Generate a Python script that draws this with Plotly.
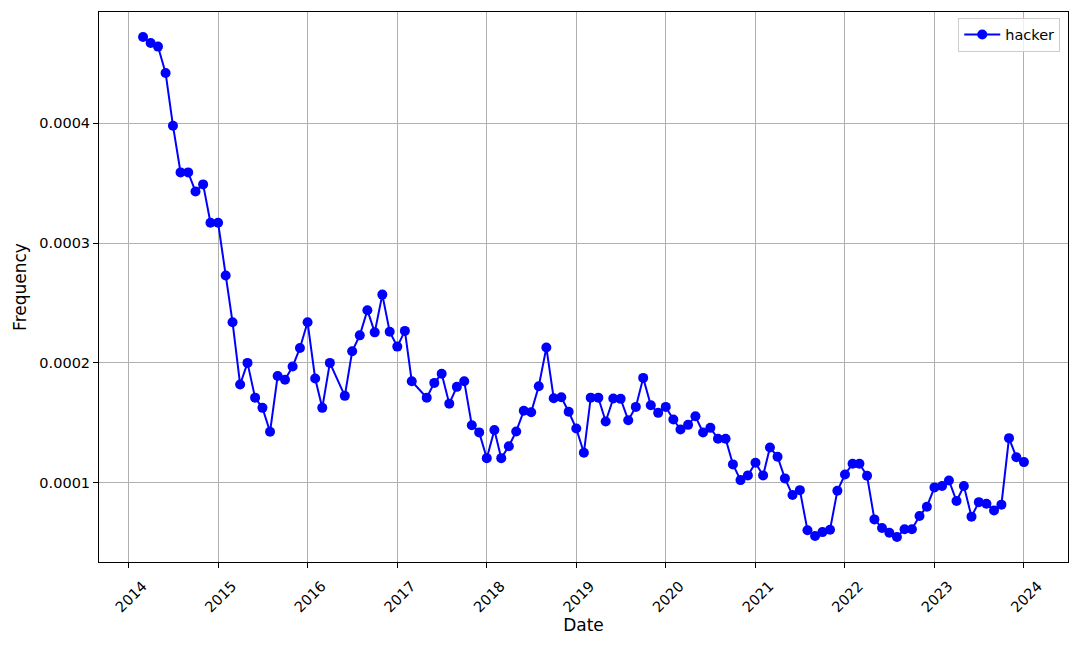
import pandas as pd
import plotly.graph_objects as go

LINE_COLOR = "#0000FF"
GRID_COLOR = "#B0B0B0"
FONT = "DejaVu Sans, Liberation Sans, sans-serif"

# monthly points, 2016-05 and 2017-04 are absent in the source series
MISSING_MONTHS = ["2016-05-01", "2017-04-01"]
MONTHS = [
    d for d in pd.date_range("2014-03-01", "2024-01-01", freq="MS")
    if d.strftime("%Y-%m-%d") not in MISSING_MONTHS
]

# frequency values in units of 1e-6
FREQ_2014 = [472, 467, 464, 442, 398, 359, 359, 343, 349, 317]
FREQ_2015 = [317, 273, 234, 182, 200, 171, 162.5, 142.5, 189, 186, 197, 212.5]
FREQ_2016 = [234, 187, 162.5, 200, 172.5, 209.7, 223, 244, 225.5, 257, 226]
FREQ_2017 = [213.6, 226.7, 184.7, 171, 183.3, 191, 166, 180, 184.7, 148, 142]
FREQ_2018 = [120.5, 144, 120.5, 130.5, 142.8, 160, 158.8, 180.5, 212.8, 170.5, 171.3, 159.2]
FREQ_2019 = [145.2, 125, 171, 171, 151.1, 170.3, 170, 152.2, 163.3, 187.5, 164.7, 158.3]
FREQ_2020 = [163.3, 152.8, 144.4, 148.3, 155.5, 141.9, 145.8, 136.7, 136.7, 115.3, 102.2, 106.1]
FREQ_2021 = [116.7, 106.1, 129.4, 121.7, 103.6, 89.7, 93.8, 60.3, 55.5, 58.8, 60.8, 93.3]
FREQ_2022 = [106.9, 115.8, 115.8, 105.8, 69.4, 62.2, 58.3, 54.7, 61.1, 61.1, 72.2, 80]
FREQ_2023 = [96.1, 97.2, 101.9, 84.7, 97.2, 71.7, 83.8, 82.5, 76.9, 81.7, 137.2, 121.3]
FREQ_2024 = [117.2]

freq = [
    v * 1e-6
    for year in (FREQ_2014, FREQ_2015, FREQ_2016, FREQ_2017, FREQ_2018, FREQ_2019,
                 FREQ_2020, FREQ_2021, FREQ_2022, FREQ_2023, FREQ_2024)
    for v in year
]

Y_TICKS = [0.0001, 0.0002, 0.0003, 0.0004]
X_TICKS = [f"{y}-01-01" for y in range(2014, 2025)]
X_TICK_LABELS = [str(y) for y in range(2014, 2025)]

# matplotlib-like 5% padding around the data
span = MONTHS[-1] - MONTHS[0]
x_range = [MONTHS[0] - span * 0.05, MONTHS[-1] + span * 0.05]
y_span = max(freq) - min(freq)
y_range = [min(freq) - 0.05 * y_span, max(freq) + 0.05 * y_span]

fig = go.Figure()
fig.add_trace(
    go.Scatter(
        x=MONTHS,
        y=freq,
        mode="lines+markers",
        name="hacker",
        line={"color": LINE_COLOR, "width": 2},
        marker={"color": LINE_COLOR, "size": 10},
    )
)

axis_common = {
    "showline": True,
    "mirror": True,
    "linecolor": "black",
    "linewidth": 1,
    "showgrid": True,
    "gridcolor": GRID_COLOR,
    "gridwidth": 1,
    "zeroline": False,
    "ticks": "outside",
    "ticklen": 5,
    "tickcolor": "black",
    "tickfont": {"size": 14.5, "color": "black"},
    "automargin": False,
}

fig.update_layout(
    width=1080,
    height=648,
    paper_bgcolor="white",
    plot_bgcolor="white",
    font={"family": FONT, "size": 14.5, "color": "black"},
    margin={"l": 99, "r": 12, "t": 12, "b": 86},
    showlegend=True,
    legend={
        "x": 0.992,
        "y": 0.99,
        "xanchor": "right",
        "yanchor": "top",
        "bgcolor": "rgba(255,255,255,0.8)",
        "bordercolor": "#CCCCCC",
        "borderwidth": 1,
        "itemwidth": 36,
        "font": {"size": 14.5},
    },
    xaxis={
        **axis_common,
        "range": x_range,
        "tickmode": "array",
        "tickvals": X_TICKS,
        "ticktext": X_TICK_LABELS,
        "tickangle": -45,
        "ticklabelshift": 14,
        "ticklabelstandoff": 4,
        "title": {"text": "Date", "standoff": 0},
    },
    yaxis={
        **axis_common,
        "range": y_range,
        "tickmode": "array",
        "tickvals": Y_TICKS,
        "ticktext": [f"{v:.4f}" for v in Y_TICKS],
        "title": {"text": "Frequency", "standoff": 8},
    },
)

fig.write_html(
    "out.html",
    config={"displayModeBar": False},
    post_script="document.body.style.margin = '0';",
)
